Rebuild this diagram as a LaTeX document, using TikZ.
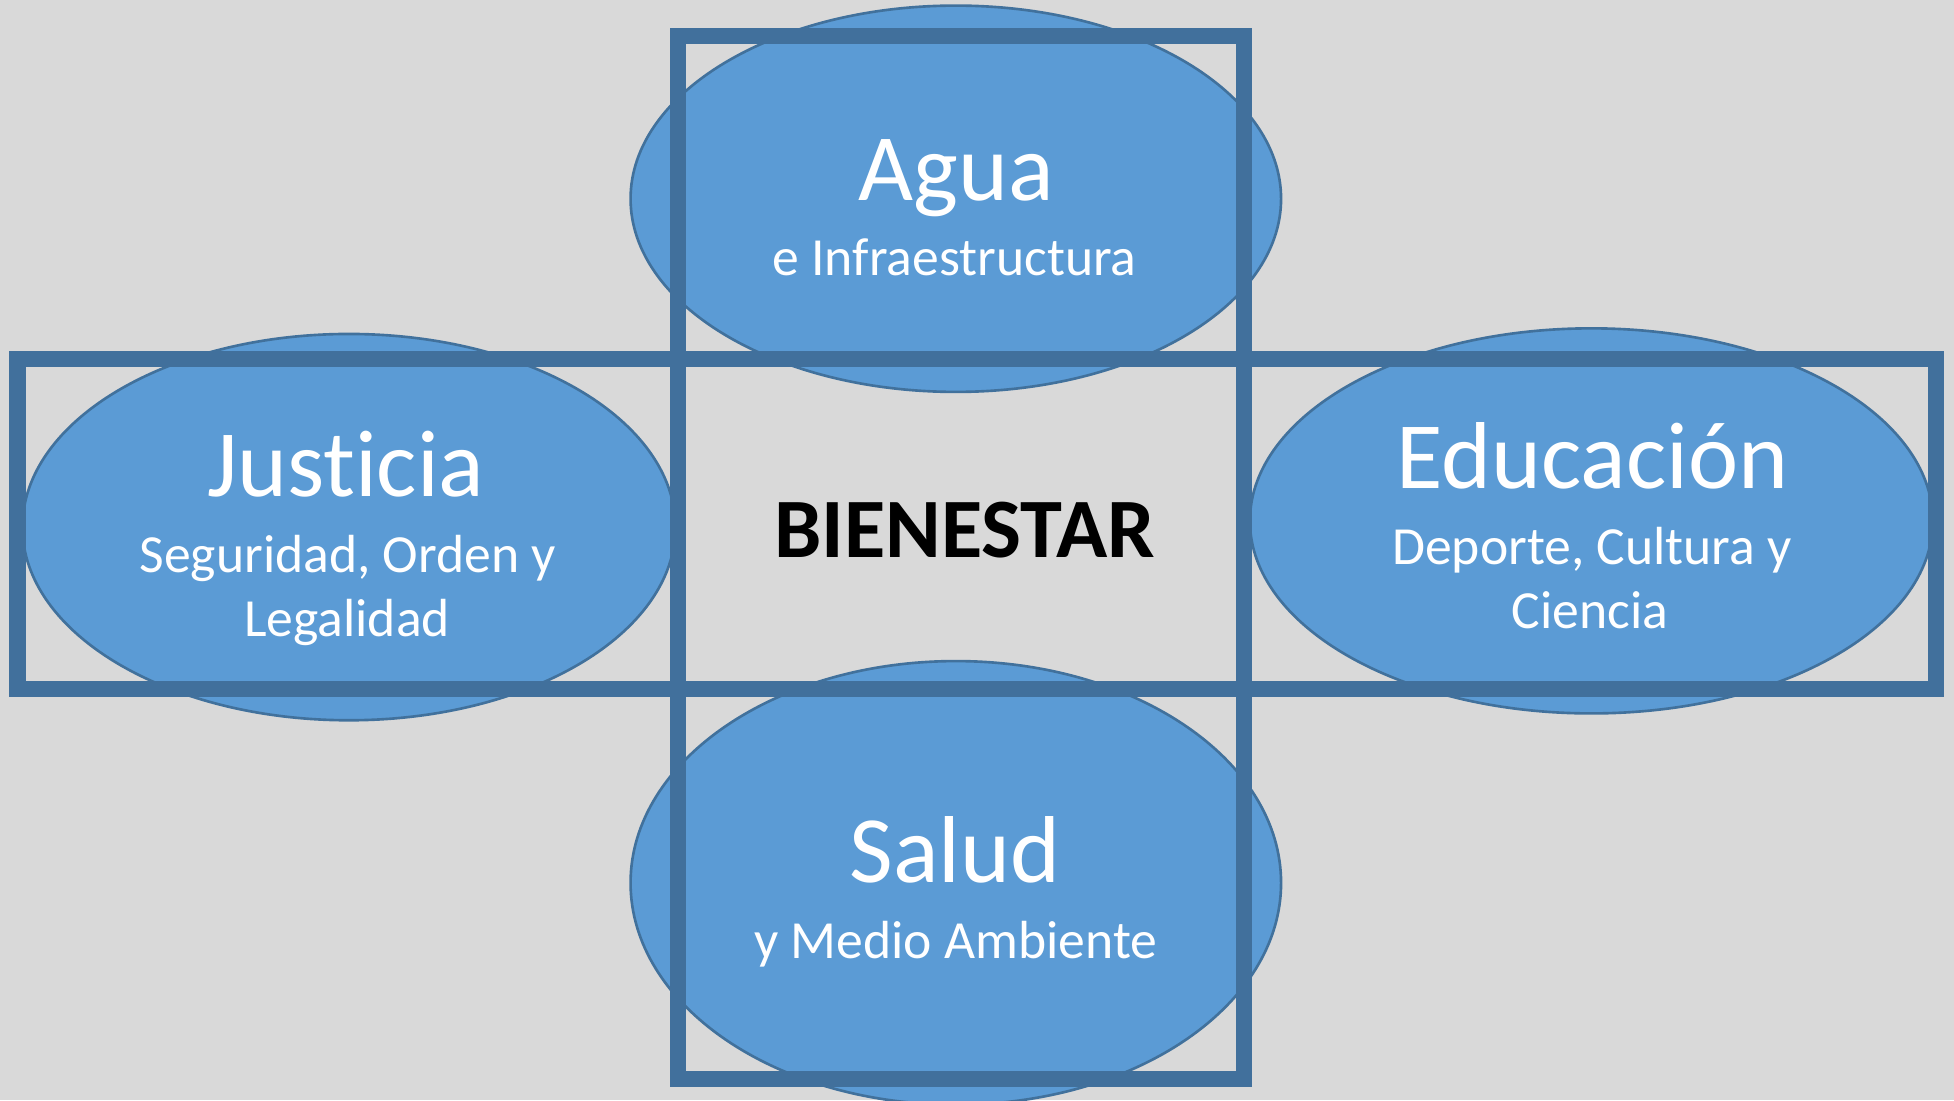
\documentclass[tikz,border=0pt]{standalone}
\usepackage{fontspec}
\setmainfont{Carlito}[Ligatures=NoCommon]
\definecolor{fondo}{HTML}{D9D9D9}
\definecolor{relleno}{HTML}{5B9BD5}
\definecolor{borde}{HTML}{41719C}
\definecolor{marco}{HTML}{41709C}

\begin{document}
\begin{tikzpicture}[scale=0.1]
\tikzstyle{every node}+=[inner sep=0pt]
\tikzstyle{titulo}=[text=white,font=\fontsize{21.7}{26}\selectfont,anchor=base]
\tikzstyle{sub}=[text=white,font=\fontsize{12.25}{15}\selectfont,anchor=base]
\fill [fondo] (0,0) rectangle (156.8,-88.3);
\useasboundingbox (0,0) rectangle (156.8,-88.3);
% ellipses
\draw [borde,fill=relleno,line width=0.6pt] (76.7,-15.95) ellipse (26.1 and 15.5);
\draw [borde,fill=relleno,line width=0.6pt] (28.0,-42.3) ellipse (26.2 and 15.5);
\draw [borde,fill=relleno,line width=0.6pt] (127.7,-41.8) ellipse (27.4 and 15.45);
\draw [borde,fill=relleno,line width=0.6pt] (76.7,-70.85) ellipse (26.1 and 17.8);
% marcos
\draw [marco,line width=3.7pt] (54.4,-2.9) rectangle (99.85,-86.6);
\draw [marco,line width=3.7pt] (1.4,-28.8) rectangle (155.35,-55.3);
% textos
\node [titulo] (agua) at (76.75,-16.06) {Agua};
\node [sub] (aguasub) at (76.6,-22.1) {e Infraestructura};
\node [titulo] (justicia) at (27.75,-39.87) {Justicia};
\node [sub] (justsub1) at (27.9,-45.96) {Seguridad, Orden y};
\node [sub] (justsub2) at (27.85,-51.04) {Legalidad};
\node [titulo] (educ) at (127.8,-39.2) {Educación};
\node [sub] (educsub1) at (127.75,-45.27) {Deporte, Cultura y};
\node [sub] (educsub2) at (127.6,-50.44) {Ciencia};
\node [titulo] (salud) at (76.65,-70.8) {Salud};
\node [sub] (saludsub) at (76.7,-76.9) {y Medio Ambiente};
\node [anchor=base,font=\fontsize{19.3}{23}\selectfont\bfseries] (bien) at (77.4,-44.73) {BIENESTAR};
\end{tikzpicture}
\end{document}
